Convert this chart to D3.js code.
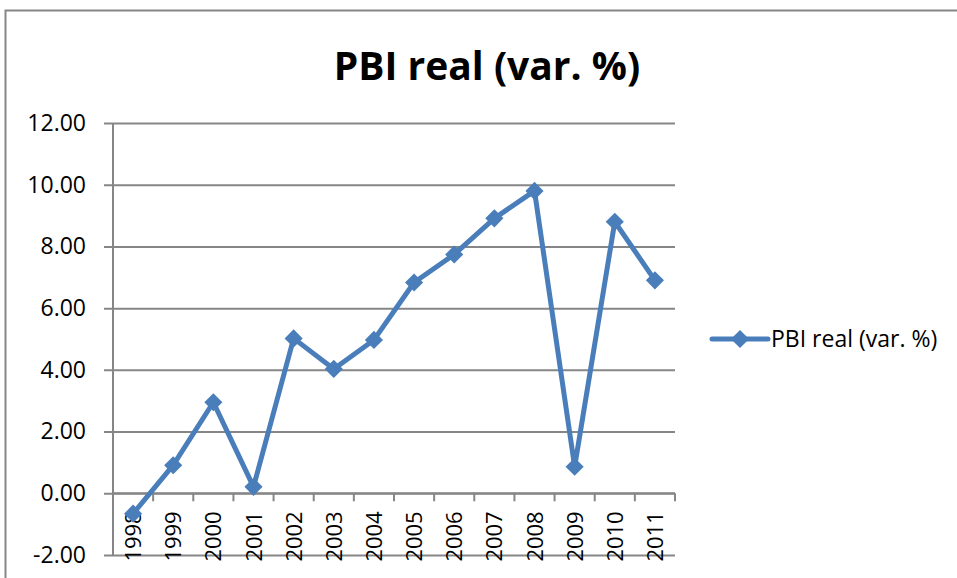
<!DOCTYPE html>
<html>
<head>
<meta charset="utf-8">
<script src="https://cdn.jsdelivr.net/npm/d3@7"></script>
<style>
    body { margin: 0; background: #fff; }
    text { font-family: "Open Sans", Calibri, sans-serif; fill: #000; }
</style>
</head>
<body>
<script>
//chart data
var years = ["1998", "1999", "2000", "2001", "2002", "2003", "2004",
             "2005", "2006", "2007", "2008", "2009", "2010", "2011"];
var pbiReal = [-0.66, 0.91, 2.95, 0.21, 5.02, 4.03, 4.97,
               6.83, 7.74, 8.91, 9.80, 0.86, 8.80, 6.90];
var yTicks = [-2, 0, 2, 4, 6, 8, 10, 12];
var seriesName = "PBI real (var. %)";
var chartTitle = "PBI real (var. %)";

var width = 957,
    height = 578;

var svg = d3.select("body")
    .append("svg")
    .attr("width", width)
    .attr("height", height);

//outer chart frame
svg.append("rect")
    .attr("x", 5.5)
    .attr("y", 10.5)
    .attr("width", 1000)
    .attr("height", 700)
    .attr("fill", "none")
    .attr("stroke", "#868686")
    .attr("stroke-width", 2);

//plot area bounds
var plotLeft = 113, plotRight = 675, plotTop = 123, plotBottom = 555;

var x = d3.scaleBand()
    .domain(years)
    .range([plotLeft, plotRight])
    .padding(0);

var y = d3.scaleLinear()
    .domain([-2, 12])
    .range([plotBottom, plotTop]);

//title
svg.append("text")
    .attr("x", 487)
    .attr("y", 80)
    .attr("text-anchor", "middle")
    .style("font-size", "39px")
    .style("font-weight", "bold")
    .text(chartTitle);

//y gridlines and labels (plain hyphen for negatives, like the original)
var fmt = d3.format(".2f");
var yAxis = svg.append("g")
    .attr("transform", "translate(" + plotLeft + ",0)")
    .call(d3.axisLeft(y)
        .tickValues(yTicks)
        .tickSize(-(plotRight - plotLeft))
        .tickSizeOuter(0)
        .tickFormat(function(d){ return fmt(d).replace("\u2212", "-"); }));
yAxis.select(".domain").remove();
yAxis.selectAll(".tick line")
    .attr("x1", -9)
    .attr("stroke", "#868686")
    .attr("stroke-width", 2);
yAxis.selectAll(".tick text")
    .attr("x", -27)
    .style("font-size", "23px")
    .style("font-family", "\"Open Sans\", sans-serif")
    .attr("fill", "#000");

//vertical axis line
svg.append("line")
    .attr("x1", plotLeft).attr("x2", plotLeft)
    .attr("y1", plotTop).attr("y2", plotBottom)
    .attr("stroke", "#868686")
    .attr("stroke-width", 2);

//category axis at zero
var xAxis = svg.append("g")
    .attr("transform", "translate(0," + y(0) + ")");
xAxis.append("line")
    .attr("x1", plotLeft).attr("x2", plotRight)
    .attr("stroke", "#868686")
    .attr("stroke-width", 2);
var bounds = years.map(function(d){ return x(d); }).concat([x(years[years.length - 1]) + x.bandwidth()]);
xAxis.selectAll(".xtick")
    .data(bounds.slice(1))
    .enter()
    .append("line")
    .attr("class", "xtick")
    .attr("x1", function(d){ return d; })
    .attr("x2", function(d){ return d; })
    .attr("y1", 0).attr("y2", 8)
    .attr("stroke", "#868686")
    .attr("stroke-width", 2);
xAxis.selectAll(".xlabel")
    .data(years)
    .enter()
    .append("text")
    .attr("class", "xlabel")
    .attr("text-anchor", "end")
    .attr("transform", function(d){
        return "translate(" + (x(d) + x.bandwidth() / 2 + 8) + ",18) rotate(-90)";
    })
    .style("font-size", "22px")
    .text(function(d){ return d; });

//series line
var line = d3.line()
    .x(function(d, i){ return x(years[i]) + x.bandwidth() / 2; })
    .y(function(d){ return y(d); });

svg.append("path")
    .datum(pbiReal)
    .attr("d", line)
    .attr("fill", "none")
    .attr("stroke", "#4A7EBB")
    .attr("stroke-width", 5)
    .attr("stroke-linejoin", "round");

var diamond = d3.symbol().type(d3.symbolDiamond2).size(210);
svg.selectAll(".marker")
    .data(pbiReal)
    .enter()
    .append("path")
    .attr("class", "marker")
    .attr("d", diamond)
    .attr("transform", function(d, i){
        return "translate(" + (x(years[i]) + x.bandwidth() / 2) + "," + y(d) + ")";
    })
    .attr("fill", "#4A7EBB");

//legend
var legend = svg.append("g")
    .attr("transform", "translate(712,339)");
legend.append("line")
    .attr("x1", 0).attr("x2", 56)
    .attr("stroke", "#4A7EBB")
    .attr("stroke-width", 5)
    .attr("stroke-linecap", "round");
legend.append("path")
    .attr("d", diamond)
    .attr("transform", "translate(28,0)")
    .attr("fill", "#4A7EBB");
legend.append("text")
    .attr("x", 59)
    .attr("y", 8)
    .style("font-size", "23px")
    .text(seriesName);
</script>
</body>
</html>
